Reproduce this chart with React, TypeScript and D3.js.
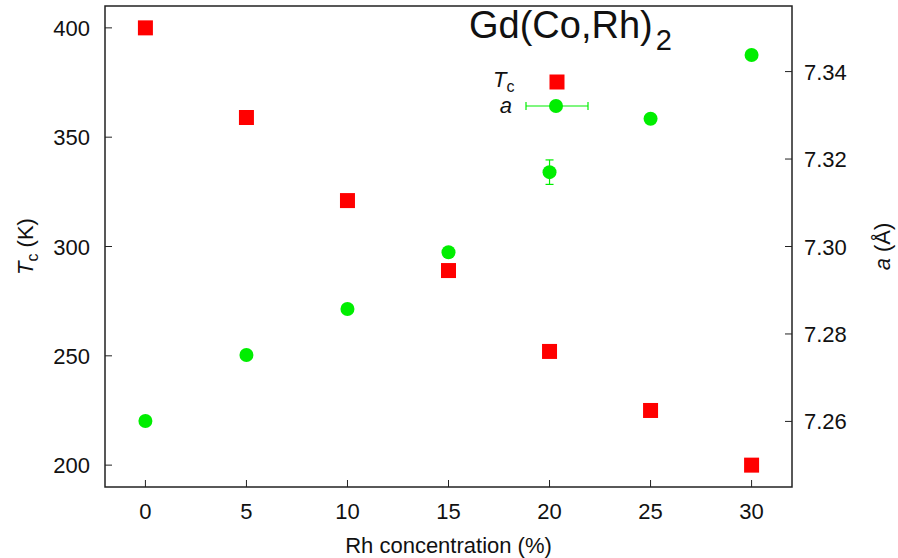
import React from "react";
import * as d3 from "d3";

const concentration = [0, 5, 10, 15, 20, 25, 30];
const curieTemp = [400, 359, 321, 289, 252, 225, 200];
const latticeA = [7.2601, 7.2752, 7.2857, 7.2987, 7.317, 7.3292, 7.3438];
const latticeErr = [0, 0, 0, 0, 0.0028, 0.0007, 0];
const xTicks = [0, 5, 10, 15, 20, 25, 30];
const leftTicks = [200, 250, 300, 350, 400];
const rightTicks = [7.26, 7.28, 7.3, 7.32, 7.34];

const W = 898;
const H = 558;
const M = { left: 105, right: 106, top: 6, bottom: 71 };
const RED = "#ff0000";
const GREEN = "#00ee00";
const AXIS = "#222";
const FONT = "Liberation Sans, Arial, sans-serif";
const FS = 22;

export default function App() {
  const x = d3.scaleLinear().domain([-2, 32]).range([M.left, W - M.right]);
  const yL = d3.scaleLinear().domain([190, 410]).range([H - M.bottom, M.top]);
  const yR = d3.scaleLinear().domain([7.245, 7.355]).range([H - M.bottom, M.top]);
  const x0 = M.left, x1 = W - M.right, y0 = H - M.bottom, y1 = M.top;
  const tick = 7;
  const sq = 15;
  const r = 7;

  return (
    <svg width={W} height={H} style={{ position: "absolute", left: 0, top: 0 }} fontFamily={FONT}>
      <rect width={W} height={H} fill="#fff" />
      {/* frame */}
      <rect x={x0} y={y1} width={x1 - x0} height={y0 - y1} fill="none" stroke={AXIS} strokeWidth={1.5} />
      {/* x ticks */}
      {xTicks.map((t) => (
        <g key={"x" + t}>
          <line x1={x(t)} x2={x(t)} y1={y0} y2={y0 - tick} stroke={AXIS} strokeWidth={1} />
          <text x={x(t)} y={y0 + 32} fontSize={FS} textAnchor="middle" fill="#111">{t}</text>
        </g>
      ))}
      {leftTicks.map((t) => (
        <g key={"l" + t}>
          <line x1={x0} x2={x0 + tick} y1={yL(t)} y2={yL(t)} stroke={AXIS} strokeWidth={1} />
          <text x={x0 - 15} y={yL(t) + 8} fontSize={FS} textAnchor="end" fill="#111">{t}</text>
        </g>
      ))}
      {rightTicks.map((t) => (
        <g key={"r" + t}>
          <line x1={x1} x2={x1 - tick} y1={yR(t)} y2={yR(t)} stroke={AXIS} strokeWidth={1} />
          <text x={x1 + 12} y={yR(t) + 8} fontSize={FS} textAnchor="start" fill="#111">{t.toFixed(2)}</text>
        </g>
      ))}
      {/* axis titles */}
      <text x={(x0 + x1) / 2} y={553} fontSize={FS} textAnchor="middle" fill="#111">Rh concentration (%)</text>
      <text transform={`translate(33, ${(y0 + y1) / 2}) rotate(-90)`} fontSize={FS} textAnchor="middle" fill="#111">
        <tspan fontStyle="italic">T</tspan>
        <tspan fontSize={16} dy={5}>c</tspan>
        <tspan dy={-5}> (K)</tspan>
      </text>
      <text transform={`translate(890, ${(y0 + y1) / 2}) rotate(-90)`} fontSize={FS} textAnchor="middle" fill="#111">
        <tspan fontStyle="italic">a</tspan> (Å)
      </text>
      {/* title */}
      <text x={469} y={38} fontSize={38} fill="#111">
        Gd(Co,Rh)<tspan fontSize={29} dx={3} dy={12}>2</tspan>
      </text>
      {/* Tc series */}
      {concentration.map((c, i) => (
        <rect key={"tc" + i} x={x(c) - sq / 2} y={yL(curieTemp[i]) - sq / 2} width={sq} height={sq} fill={RED} />
      ))}
      {/* lattice parameter with error bars */}
      {concentration.map((c, i) => {
        const e = latticeErr[i];
        return (
          <g key={"a" + i}>
            {e > 0 && (
              <g stroke={GREEN} strokeWidth={1.2}>
                <line x1={x(c)} x2={x(c)} y1={yR(latticeA[i] + e)} y2={yR(latticeA[i] - e)} />
                <line x1={x(c) - 4} x2={x(c) + 4} y1={yR(latticeA[i] + e)} y2={yR(latticeA[i] + e)} />
                <line x1={x(c) - 4} x2={x(c) + 4} y1={yR(latticeA[i] - e)} y2={yR(latticeA[i] - e)} />
              </g>
            )}
            <circle cx={x(c)} cy={yR(latticeA[i])} r={r} fill={GREEN} />
          </g>
        );
      })}
      {/* legend */}
      <g>
        <text x={493} y={87} fontSize={FS} fill="#111">
          <tspan fontStyle="italic">T</tspan>
          <tspan fontSize={16} dy={5}>c</tspan>
        </text>
        <rect x={557 - sq / 2} y={82 - sq / 2} width={sq} height={sq} fill={RED} />
        <text x={512} y={113} fontSize={FS} fontStyle="italic" fill="#111" textAnchor="end">a</text>
        <g stroke={GREEN} strokeWidth={1.2}>
          <line x1={526} x2={588} y1={106} y2={106} />
          <line x1={526} x2={526} y1={102} y2={110} />
          <line x1={588} x2={588} y1={102} y2={110} />
        </g>
        <circle cx={556} cy={106} r={r} fill={GREEN} />
      </g>
    </svg>
  );
}
